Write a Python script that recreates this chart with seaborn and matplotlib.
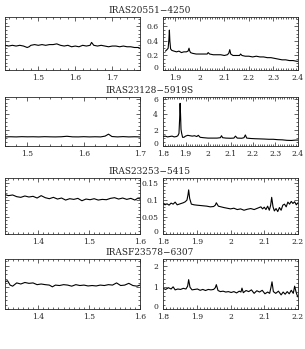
import matplotlib
matplotlib.use("Agg")
import matplotlib.pyplot as plt
import matplotlib.transforms as mtransforms
import seaborn as sns
from matplotlib.ticker import MultipleLocator

sns.set_style("ticks")
plt.rcParams["font.family"] = ["DejaVu Serif"]

# --- IRAS20551-4250 ---
w1a = [1.410, 1.420, 1.430, 1.440, 1.450, 1.460, 1.470, 1.475, 1.480, 1.490, 1.500, 1.510,
       1.520, 1.530, 1.540, 1.550, 1.560, 1.570, 1.580, 1.590, 1.600, 1.610, 1.620, 1.630,
       1.640, 1.644, 1.650, 1.660, 1.670, 1.680, 1.690, 1.700, 1.710, 1.720, 1.730, 1.740,
       1.750, 1.760, 1.770, 1.775]
f1a = [0.34, 0.33, 0.34, 0.33, 0.34, 0.33, 0.31, 0.32, 0.34, 0.35, 0.34, 0.35,
       0.34, 0.35, 0.35, 0.36, 0.34, 0.33, 0.34, 0.32, 0.33, 0.32, 0.34, 0.33,
       0.34, 0.38, 0.34, 0.33, 0.34, 0.33, 0.32, 0.33, 0.33, 0.32, 0.33, 0.32,
       0.32, 0.31, 0.31, 0.30]
w1b = [1.860, 1.866, 1.871, 1.874, 1.876, 1.878, 1.881, 1.886, 1.895, 1.905, 1.915, 1.925,
       1.935, 1.945, 1.952, 1.956, 1.958, 1.962, 1.970, 1.985, 2.000, 2.015, 2.030, 2.034,
       2.040, 2.055, 2.070, 2.085, 2.100, 2.112, 2.118, 2.122, 2.126, 2.135, 2.150, 2.162,
       2.166, 2.172, 2.185, 2.200, 2.215, 2.230, 2.245, 2.260, 2.275, 2.290, 2.305, 2.320,
       2.335, 2.350, 2.365, 2.380, 2.395, 2.400]
f1b = [0.26, 0.28, 0.30, 0.42, 0.55, 0.40, 0.29, 0.27, 0.26, 0.25, 0.26, 0.24,
       0.25, 0.25, 0.26, 0.30, 0.27, 0.24, 0.23, 0.22, 0.22, 0.22, 0.22, 0.24,
       0.22, 0.21, 0.21, 0.21, 0.20, 0.21, 0.23, 0.28, 0.22, 0.20, 0.20, 0.20,
       0.22, 0.20, 0.19, 0.19, 0.18, 0.19, 0.18, 0.18, 0.17, 0.17, 0.16, 0.15,
       0.14, 0.14, 0.13, 0.13, 0.12, 0.12]

# --- IRAS23128-5919S ---
w2a = [1.460, 1.470, 1.480, 1.490, 1.500, 1.510, 1.520, 1.530, 1.540, 1.550, 1.560, 1.570,
       1.580, 1.590, 1.600, 1.610, 1.620, 1.630, 1.638, 1.644, 1.650, 1.660, 1.670, 1.680,
       1.690, 1.700]
f2a = [1.15, 1.17, 1.15, 1.18, 1.16, 1.17, 1.15, 1.18, 1.16, 1.15, 1.17, 1.23,
       1.16, 1.15, 1.18, 1.15, 1.17, 1.15, 1.25, 1.50, 1.20, 1.15, 1.19, 1.15,
       1.17, 1.15]
w2b = [1.800, 1.810, 1.820, 1.830, 1.840, 1.850, 1.860, 1.866, 1.871, 1.874, 1.876, 1.878,
       1.880, 1.883, 1.887, 1.893, 1.900, 1.910, 1.920, 1.930, 1.940, 1.950, 1.957, 1.965,
       1.980, 2.000, 2.020, 2.040, 2.055, 2.060, 2.065, 2.080, 2.100, 2.115, 2.122, 2.130,
       2.150, 2.160, 2.166, 2.172, 2.190, 2.210, 2.230, 2.250, 2.270, 2.290, 2.310, 2.330,
       2.350, 2.370, 2.390, 2.400]
f2b = [1.20, 1.25, 1.15, 1.20, 1.25, 1.15, 1.20, 1.30, 1.60, 3.50, 5.40, 4.00,
       2.10, 1.60, 1.10, 1.10, 1.25, 1.35, 1.30, 1.25, 1.30, 1.20, 1.35, 1.10,
       1.05, 1.00, 1.00, 1.00, 1.05, 1.30, 1.05, 1.00, 0.98, 1.00, 1.25, 1.00,
       0.98, 1.05, 1.40, 1.00, 0.95, 0.92, 0.90, 0.88, 0.85, 0.85, 0.80, 0.78,
       0.72, 0.70, 0.75, 0.75]

# --- IRAS23253-5415 ---
w3a = [1.335, 1.342, 1.350, 1.358, 1.366, 1.374, 1.382, 1.390, 1.398, 1.406, 1.414, 1.422,
       1.430, 1.438, 1.446, 1.454, 1.462, 1.470, 1.478, 1.486, 1.494, 1.502, 1.510, 1.518,
       1.526, 1.534, 1.542, 1.550, 1.558, 1.566, 1.574, 1.582, 1.590, 1.596, 1.600]
f3a = [0.116, 0.113, 0.115, 0.110, 0.108, 0.112, 0.109, 0.111, 0.106, 0.113, 0.107, 0.104,
       0.108, 0.103, 0.106, 0.100, 0.104, 0.102, 0.105, 0.098, 0.103, 0.101, 0.104, 0.100,
       0.102, 0.101, 0.105, 0.107, 0.103, 0.106, 0.102, 0.105, 0.100, 0.106, 0.103]
w3b = [1.800, 1.806, 1.812, 1.818, 1.824, 1.830, 1.836, 1.842, 1.848, 1.854, 1.860, 1.866,
       1.871, 1.874, 1.876, 1.879, 1.884, 1.892, 1.900, 1.910, 1.920, 1.930, 1.940, 1.950,
       1.955, 1.958, 1.964, 1.972, 1.980, 1.990, 2.000, 2.010, 2.020, 2.030, 2.040, 2.050,
       2.060, 2.070, 2.080, 2.090, 2.095, 2.100, 2.105, 2.110, 2.115, 2.119, 2.122, 2.126,
       2.130, 2.135, 2.140, 2.145, 2.150, 2.155, 2.160, 2.165, 2.170, 2.175, 2.180, 2.185,
       2.190, 2.195, 2.200]
f3b = [0.090, 0.086, 0.089, 0.085, 0.091, 0.088, 0.094, 0.086, 0.088, 0.090, 0.092, 0.095,
       0.100, 0.115, 0.130, 0.105, 0.088, 0.086, 0.085, 0.084, 0.083, 0.082, 0.080, 0.081,
       0.085, 0.092, 0.082, 0.080, 0.078, 0.076, 0.074, 0.076, 0.072, 0.074, 0.070, 0.073,
       0.075, 0.072, 0.076, 0.080, 0.074, 0.079, 0.072, 0.082, 0.070, 0.085, 0.108, 0.080,
       0.068, 0.075, 0.066, 0.078, 0.070, 0.085, 0.088, 0.080, 0.094, 0.088, 0.096, 0.090,
       0.095, 0.086, 0.092]

# --- IRASF23578-6307 ---
w4a = [1.335, 1.340, 1.345, 1.350, 1.358, 1.366, 1.374, 1.382, 1.390, 1.398, 1.406, 1.414,
       1.422, 1.428, 1.434, 1.442, 1.450, 1.458, 1.466, 1.474, 1.482, 1.490, 1.498, 1.506,
       1.514, 1.522, 1.530, 1.538, 1.546, 1.554, 1.562, 1.570, 1.578, 1.586, 1.594, 1.600]
f4a = [1.25, 1.30, 1.10, 1.05, 1.20, 1.15, 1.22, 1.18, 1.20, 1.12, 1.15, 1.12,
       1.10, 1.02, 1.10, 1.08, 1.12, 1.10, 1.05, 1.12, 1.08, 1.10, 1.06, 1.08,
       1.06, 1.10, 1.08, 1.12, 1.10, 1.20, 1.08, 1.10, 1.18, 1.08, 1.05, 1.10]
w4b = [1.800, 1.808, 1.816, 1.824, 1.830, 1.836, 1.844, 1.852, 1.860, 1.868, 1.873, 1.876,
       1.880, 1.886, 1.894, 1.902, 1.910, 1.918, 1.926, 1.934, 1.942, 1.950, 1.955, 1.958,
       1.963, 1.970, 1.978, 1.986, 1.994, 2.002, 2.010, 2.018, 2.026, 2.031, 2.034, 2.038,
       2.046, 2.054, 2.062, 2.070, 2.078, 2.086, 2.094, 2.102, 2.110, 2.116, 2.120, 2.123,
       2.127, 2.134, 2.142, 2.150, 2.156, 2.162, 2.168, 2.174, 2.180, 2.186, 2.190, 2.194,
       2.197, 2.200]
f4b = [0.95, 0.90, 0.98, 0.92, 1.02, 0.88, 0.92, 0.90, 0.95, 0.92, 1.05, 1.35,
       1.00, 0.88, 0.90, 0.92, 0.86, 0.90, 0.85, 0.90, 0.88, 0.90, 0.98, 1.12,
       0.85, 0.80, 0.82, 0.78, 0.80, 0.76, 0.80, 0.74, 0.82, 0.78, 0.96, 0.75,
       0.85, 0.80, 0.88, 0.72, 0.84, 0.78, 0.86, 0.70, 0.78, 0.72, 1.00, 1.25,
       0.80, 0.72, 0.82, 0.65, 0.78, 0.68, 0.80, 0.70, 0.86, 0.72, 1.05, 0.80,
       0.65, 0.55]

names = ["IRAS20551\u22124250", "IRAS23128\u22125919S", "IRAS23253\u22125415", "IRASF23578\u22126307"]
left_data = [(w1a, f1a), (w2a, f2a), (w3a, f3a), (w4a, f4a)]
right_data = [(w1b, f1b), (w2b, f2b), (w3b, f3b), (w4b, f4b)]
left_xlim = [(1.41, 1.775), (1.46, 1.70), (1.335, 1.60), (1.335, 1.60)]
right_xlim = [(1.85, 2.40), (1.80, 2.40), (1.80, 2.20), (1.80, 2.20)]
ylims = [(0, 0.73), (0, 6.2), (0, 0.165), (0, 2.3)]
ymaj = [0.2, 2, 0.05, 1]
ymin = [0.05, 0.5, 0.01, 0.2]
lminor = [0.02, 0.02, 0.01, 0.01]

W, H = 305, 349
fig = plt.figure(figsize=(W / 100, H / 100), dpi=100)
rows_px = [(17, 70), (97, 146), (178, 234), (259, 309)]


def px_axes(x0, x1, top, bot):
    return fig.add_axes([x0 / W, 1 - bot / H, (x1 - x0) / W, (bot - top) / H])


fmt = plt.FuncFormatter(lambda v, p: f"{v:g}")
lift = mtransforms.ScaledTranslation(0, 2.5 / 72, fig.dpi_scale_trans)

for i in range(4):
    top, bot = rows_px[i]
    axl = px_axes(5, 140, top, bot)
    axr = px_axes(163, 298, top, bot)
    for ax, (wv, fl), xl, xmin in [(axl, left_data[i], left_xlim[i], lminor[i]),
                                   (axr, right_data[i], right_xlim[i], 0.01)]:
        sns.lineplot(x=wv, y=fl, ax=ax, color="black", linewidth=0.8)
        ax.set_xlim(*xl)
        ax.set_ylim(*ylims[i])
        ax.xaxis.set_major_locator(MultipleLocator(0.1))
        ax.xaxis.set_minor_locator(MultipleLocator(xmin))
        ax.yaxis.set_major_locator(MultipleLocator(ymaj[i]))
        ax.yaxis.set_minor_locator(MultipleLocator(ymin[i]))
        ax.tick_params(which="both", direction="in", top=True, right=True,
                       labelsize=5.5, width=0.5)
        ax.tick_params(axis="x", pad=3)
        ax.tick_params(axis="y", pad=3.5)
        ax.tick_params(which="major", length=3)
        ax.tick_params(which="minor", length=1.5)
        for s in ax.spines.values():
            s.set_linewidth(0.6)
        ax.xaxis.set_major_formatter(fmt)
        ax.yaxis.set_major_formatter(fmt)
    axl.set_yticklabels([])
    # nudge only the "0" label up a little so it clears the x labels
    fig.canvas.draw()
    for lab in axr.get_yticklabels():
        if lab.get_text() == "0":
            lab.set_transform(lab.get_transform() + lift)
    fig.text(150 / W, 1 - (top - 2) / H, names[i], ha="center", va="bottom", fontsize=6.5)

fig.savefig("out.png", dpi=100)
